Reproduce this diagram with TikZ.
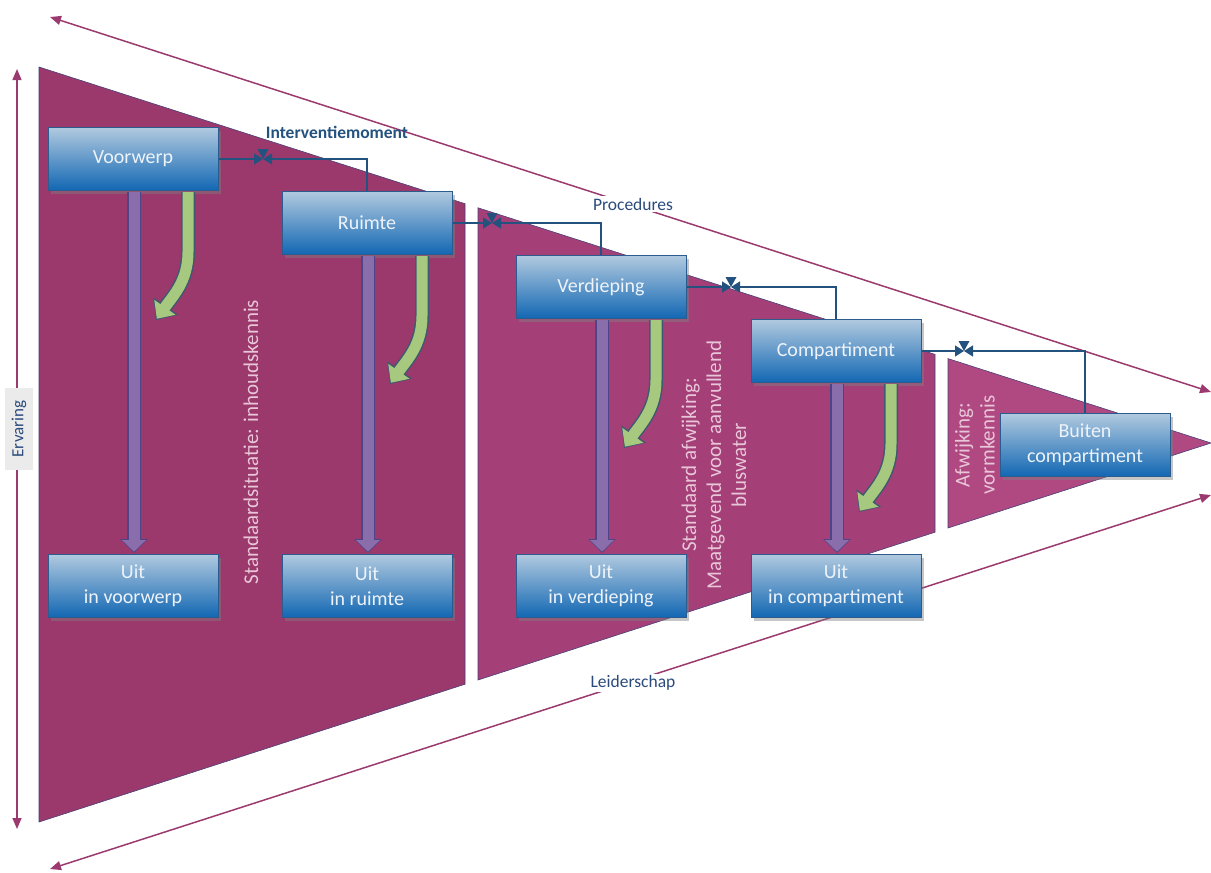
\documentclass[tikz,border=0pt]{standalone}
\usepackage{fontspec}
\setmainfont{Carlito}
\usetikzlibrary{arrows.meta,shadows,calc}
\definecolor{plumA}{HTML}{9B386C}
\definecolor{plumB}{HTML}{A53F78}
\definecolor{plumC}{HTML}{B04882}
\definecolor{plumEdge}{HTML}{4A3F78}
\definecolor{outerc}{HTML}{9B3A6E}
\definecolor{boxtop}{HTML}{B0C9DF}
\definecolor{boxmid}{HTML}{5E9BD0}
\definecolor{boxbot}{HTML}{1267B3}
\definecolor{boxborder}{HTML}{2C5C8E}
\definecolor{boxtext}{HTML}{EEF3F9}
\definecolor{conncol}{HTML}{24527F}
\definecolor{labblue}{HTML}{2B4A7C}
\definecolor{pinktext}{HTML}{E8C6D8}
\definecolor{purpfill}{HTML}{8A6DAB}
\definecolor{purpedge}{HTML}{4E4488}
\definecolor{greenfill}{HTML}{A7C97F}
\definecolor{greenedge}{HTML}{3F5A6E}
\tikzset{
  stagebox/.style={draw=boxborder, line width=1pt, minimum width=170pt, minimum height=63pt,
    top color=boxtop, middle color=boxmid, bottom color=boxbot, text=boxtext, align=center,
    font=\fontsize{20}{25}\selectfont, inner sep=2pt,
    drop shadow={shadow xshift=3pt, shadow yshift=-3pt, opacity=0.45}},
  conn/.style={draw=conncol, line width=1.4pt},
  conntip/.style={-{Triangle[width=11pt,length=9pt]}},
  outerarrow/.style={draw=outerc, line width=1.5pt, {Triangle[width=9pt,length=11pt]}-{Triangle[width=9pt,length=11pt]}},
  purpout/.style={draw=purpedge, line width=14pt, -{Triangle[width=27pt,length=14pt]}},
  purpin/.style={draw=purpfill, line width=11pt, -{Triangle[width=23pt,length=11.5pt]}, shorten >=1.3pt},
  greenout/.style={draw=greenedge, line width=14pt, -{Triangle[width=29pt,length=17pt]}},
  greenin/.style={draw=greenfill, line width=11pt, -{Triangle[width=25pt,length=14pt]}, shorten >=1.5pt},
  sidelabel/.style={text=pinktext, rotate=90, align=center, font=\fontsize{21}{25}\selectfont},
  outerlabel/.style={fill=white, text=labblue, font=\fontsize{17.5}{20}\selectfont, inner sep=2pt}
}
\begin{document}
\begin{tikzpicture}[x=1pt,y=-1pt]
\useasboundingbox (0,0) rectangle (1211,873);
% triangle pieces
\filldraw[fill=plumA, draw=plumEdge, line width=0.6pt] (39,67) -- (465,203.7) -- (465,684.2) -- (39,822) -- cycle;
\filldraw[fill=plumB, draw=plumEdge, line width=0.6pt] (478,207.8) -- (935,354.4) -- (935,532.2) -- (478,680) -- cycle;
\filldraw[fill=plumC, draw=plumEdge, line width=0.6pt] (948,358.6) -- (1211,443) -- (948,528) -- cycle;

% outer arrows
\coordinate (TL) at (50,17);
\coordinate (TR) at (1211,392);
\coordinate (BL) at (50,869);
\coordinate (BR) at (1211,495);
\coordinate (VT) at (17,69);
\coordinate (VB) at (17,829);
\draw[outerarrow] (TL) -- (TR);
\draw[outerarrow] (BL) -- (BR);
\draw[outerarrow] (VT) -- (VB);
\node[outerlabel] (proc) at (633,204) {Procedures};
\node[outerlabel] (leid) at (633,683) {Leiderschap};
\node[fill=black!8, rotate=90, minimum width=82pt, minimum height=28pt, inner sep=1pt, text=labblue,
  font=\fontsize{17}{20}\selectfont] (erv) at (19,429) {Ervaring};

% side labels
\node[sidelabel] (std) at (251,442) {Standaardsituatie: inhoudskennis};
\node[sidelabel] (afw) at (714,465) {Standaard afwijking:\\Maatgevend voor aanvullend\\bluswater};
\node[sidelabel] (vorm) at (975,445) {Afwijking:\\vormkennis};

% boxes
\node[stagebox] (vw) at (133,159) {Voorwerp};
\node[stagebox] (ru) at (367,223) {Ruimte};
\node[stagebox] (vd) at (601,287) {Verdieping};
\node[stagebox] (cp) at (836,351) {Compartiment};
\node[stagebox] (bc) at (1085,445) {Buiten\\compartiment};
\node[stagebox] (uvw) at (133,586) {Uit\\in voorwerp};
\node[stagebox] (uru) at (367,586) {Uit\\in ruimte};
\node[stagebox] (uvd) at (601,586) {Uit\\in verdieping};
\node[stagebox] (ucp) at (836,586) {Uit\\in compartiment};

% purple down arrows
\foreach \a/\b in {vw/uvw, ru/uru, vd/uvd, cp/ucp}{
  \draw[purpout] ($(\a.south)+(1,1)$) -- ($(\b.north)+(1,-1)$);
  \draw[purpin] ($(\a.south)+(1,1)$) -- ($(\b.north)+(1,-1)$);
}
% green curved arrows
\foreach \a in {vw, ru, vd, cp}{
  \draw[greenout] ($(\a.south)+(55,1)$) -- ++(0,60) to[out=-90,in=55] ++(-32,68);
  \draw[greenin] ($(\a.south)+(55,1)$) -- ++(0,60) to[out=-90,in=55] ++(-32,68);
}

% intervention connectors
\node[text=conncol, font=\bfseries\fontsize{17.5}{20}\selectfont] (iv) at (337,132) {Interventiemoment};
\coordinate (P1) at (263,159);
\coordinate (P2) at (492,223);
\coordinate (P3) at (731,287);
\coordinate (P4) at (964,351);
\foreach \a/\b/\p in {vw/ru/P1, ru/vd/P2, vd/cp/P3, cp/bc/P4}{
  \draw[conn, conntip] (\a.east) -- (\p);
  \draw[conn, conntip] (\b.north) |- (\p);
  \fill[conncol] ($(\p)+(-5.5,-10)$) -- ($(\p)+(5.5,-10)$) -- (\p) -- cycle;
}
\end{tikzpicture}
\end{document}
